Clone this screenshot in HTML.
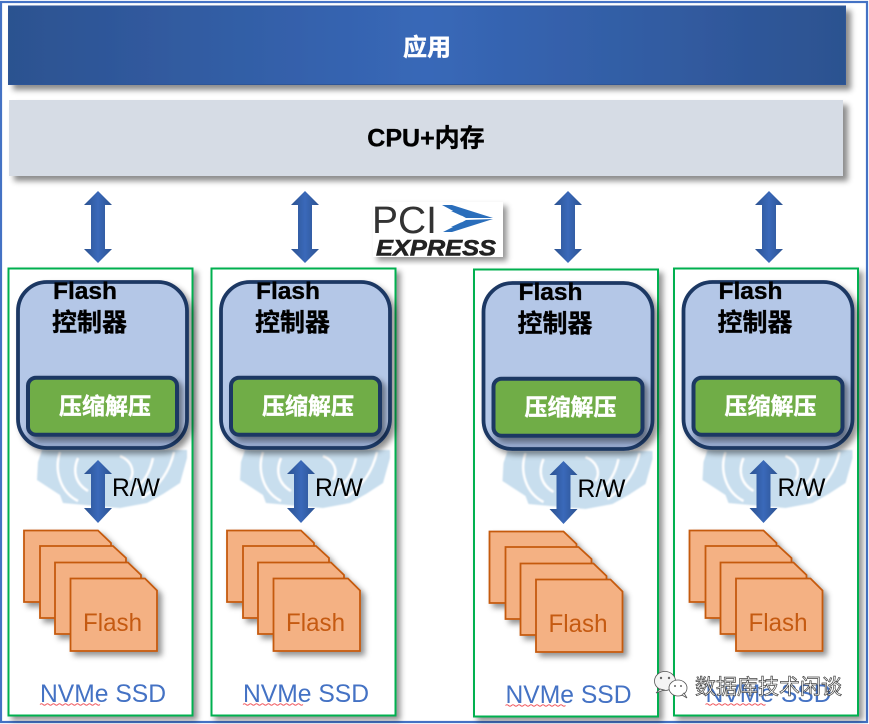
<!DOCTYPE html>
<html><head><meta charset="utf-8">
<style>
html,body{margin:0;padding:0;background:#fff}
svg{display:block}
text{font-family:"Liberation Sans","Noto Sans CJK SC",sans-serif}
.b{font-weight:700;stroke:#000;stroke-width:.35}
.w{font-weight:700;stroke:#fff;stroke-width:.4}
</style></head>
<body>
<svg width="869" height="724" viewBox="0 0 869 724" xmlns="http://www.w3.org/2000/svg">
<defs>
<linearGradient id="app" x1="0" x2="1" y1="0" y2="0"><stop offset="0" stop-color="#2c5290"/><stop offset=".5" stop-color="#3868b8"/><stop offset="1" stop-color="#2c5290"/></linearGradient>
<linearGradient id="arr" x1="0" x2="1" y1="0" y2="0"><stop offset="0" stop-color="#2c5290"/><stop offset=".5" stop-color="#3a69ba"/><stop offset="1" stop-color="#2c5290"/></linearGradient>
<linearGradient id="ctl" x1="0" x2="0" y1="0" y2="1"><stop offset="0" stop-color="#b4c7e7"/><stop offset=".87" stop-color="#b4c7e7"/><stop offset="1" stop-color="#8d9fc4"/></linearGradient>
<filter id="sh" x="-10%" y="-10%" width="125%" height="125%"><feDropShadow dx="4" dy="4" stdDeviation="3" flood-color="#000" flood-opacity=".42"/></filter>
<filter id="shw" x="-10%" y="-30%" width="120%" height="170%"><feDropShadow dx="5" dy="5" stdDeviation="3" flood-color="#000" flood-opacity=".45"/></filter>
<filter id="blur"><feGaussianBlur stdDeviation=".7"/></filter>

<path id="ta" fill="url(#arr)" d="M14 0 L28 14 L21 14 L21 58 L28 58 L14 72 L0 58 L7 58 L7 14 L0 14 Z"/>
<path id="ra" fill="url(#arr)" d="M14 0 L28 14 L21 14 L21 48 L28 48 L14 63 L0 48 L7 48 L7 14 L0 14 Z"/>

<g id="col">
  <rect x="8.500" y="268.500" width="184" height="447" fill="#fff" stroke="#00b050" stroke-width="2" filter="url(#sh)"/>
  <g filter="url(#blur)">
    <path fill="#c8deee" d="M42 450 L187 450 L187 458 L180 483 L163 494 L147 503 L120 508 L85 505 L63 503 L60 495 L37 480 L38 462 Z"/>
    <g fill="none" stroke="#fff" stroke-width="2.400">
      <path d="M60 452 C54 470 60 492 78 501"/>
      <path d="M78 458 C72 472 76 484 88 491"/>
      <path d="M153 458 C150 472 144 484 130 492"/>
      <path d="M174 452 C170 470 160 486 142 498"/>
      <path d="M120 456 C130 460 136 470 130 480"/>
    </g>
  </g>
  <rect x="18" y="282" width="169" height="166" rx="29" fill="url(#ctl)" stroke="#1f3864" stroke-width="3.800" filter="url(#sh)"/>
  <rect x="28" y="377.700" width="149" height="57" rx="8" fill="#70ad47" stroke="#1f3864" stroke-width="4" filter="url(#sh)"/>
  <use href="#ra" x="84" y="460"/>
  <g fill="#f4b183" stroke="#c55a11" stroke-width="1.800" filter="url(#sh)">
    <path d="M24 530.500 H98 L111 543 V602 H24 Z"/>
    <path d="M40 546 H113 L126 558 V618 H40 Z"/>
    <path d="M55 562.500 H128 L141 575 V634 H55 Z"/>
    <path d="M70.500 578.500 H145 L157 590.500 V651 H70.500 Z"/>
  </g>
  <path d="M40 704.500 q1.500 -1.500 3 0 t3 0 t3 0 t3 0 t3 0 t3 0 t3 0 t3 0 t3 0 t3 0 t3 0 t3 0 t3 0 t3 0 t3 0 t3 0 t3 0 t3 0 t3 0 t3 0" fill="none" stroke="#f0595f" stroke-width="1"/>
</g>
</defs>

<!-- outer frame -->
<rect x="1" y="2" width="866" height="720" fill="#fff" stroke="#4472c4" stroke-width="2.200"/>

<!-- top bars -->
<rect x="8.500" y="6" width="837" height="78.500" fill="url(#app)" stroke="#2f5597" stroke-width="1" filter="url(#shw)"/>
<text x="427" y="55.500" class="w" font-size="24" fill="#fff" text-anchor="middle">应用</text>
<rect x="9" y="100" width="834" height="76" fill="#d6dce5" filter="url(#shw)"/>
<text x="426" y="146.500" class="b" font-size="25" fill="#000" text-anchor="middle">CPU+内存</text>

<!-- top arrows -->
<use href="#ta" x="84" y="191"/>
<use href="#ta" x="291" y="191"/>
<use href="#ta" x="554" y="191"/>
<use href="#ta" x="755" y="191"/>

<!-- PCIe logo -->
<rect x="373" y="202" width="130" height="55" fill="#fff" filter="url(#sh)"/>
<text x="372" y="233" font-size="38" fill="#333" textLength="65" lengthAdjust="spacingAndGlyphs">PCI</text>
<path fill="#2a6ebb" d="M442 205 L452 205 L493 218 L466 218 L457 213 Z"/>
<path fill="#2a6ebb" d="M443 232 L452 232 L493 219 L466 220 L457 225 Z"/>
<path fill="#2a6ebb" d="M451 211 L458 211 L462 216 Z"/>
<path fill="#2a6ebb" d="M451 227 L458 227 L462 222 Z"/>
<text x="376" y="255.500" font-size="22.500" font-weight="700" font-style="italic" fill="#222" stroke="#222" stroke-width=".6" textLength="120" lengthAdjust="spacingAndGlyphs">EXPRESS</text>

<!-- column 1 -->
<g>
  <use href="#col"/>
  <text x="53" y="299" class="b" font-size="24" fill="#000" textLength="64" lengthAdjust="spacingAndGlyphs">Flash</text>
  <text x="52" y="331" class="b" font-size="25" fill="#000">控制器</text>
  <text x="59" y="414" class="w" font-size="23" fill="#fff">压缩解压</text>
  <text x="112" y="496" font-size="25" fill="#000" textLength="48" lengthAdjust="spacingAndGlyphs">R/W</text>
  <text x="83" y="631" font-size="25" fill="#c55a11" textLength="59" lengthAdjust="spacingAndGlyphs">Flash</text>
  <text x="40" y="702" font-size="25" fill="#4472c4" textLength="126" lengthAdjust="spacingAndGlyphs">NVMe SSD</text>
</g>
<!-- column 2 -->
<g transform="translate(203,0)">
  <use href="#col"/>
  <text x="53" y="299" class="b" font-size="24" fill="#000" textLength="64" lengthAdjust="spacingAndGlyphs">Flash</text>
  <text x="52" y="331" class="b" font-size="25" fill="#000">控制器</text>
  <text x="59" y="414" class="w" font-size="23" fill="#fff">压缩解压</text>
  <text x="112" y="496" font-size="25" fill="#000" textLength="48" lengthAdjust="spacingAndGlyphs">R/W</text>
  <text x="83" y="631" font-size="25" fill="#c55a11" textLength="59" lengthAdjust="spacingAndGlyphs">Flash</text>
  <text x="40" y="702" font-size="25" fill="#4472c4" textLength="126" lengthAdjust="spacingAndGlyphs">NVMe SSD</text>
</g>
<!-- column 3 -->
<g transform="translate(465.500,1)">
  <use href="#col"/>
  <text x="53" y="299" class="b" font-size="24" fill="#000" textLength="64" lengthAdjust="spacingAndGlyphs">Flash</text>
  <text x="52" y="331" class="b" font-size="25" fill="#000">控制器</text>
  <text x="59" y="414" class="w" font-size="23" fill="#fff">压缩解压</text>
  <text x="112" y="496" font-size="25" fill="#000" textLength="48" lengthAdjust="spacingAndGlyphs">R/W</text>
  <text x="83" y="631" font-size="25" fill="#c55a11" textLength="59" lengthAdjust="spacingAndGlyphs">Flash</text>
  <text x="40" y="702" font-size="25" fill="#4472c4" textLength="126" lengthAdjust="spacingAndGlyphs">NVMe SSD</text>
</g>
<!-- column 4 -->
<g transform="translate(665.500,0)">
  <use href="#col"/>
  <text x="53" y="299" class="b" font-size="24" fill="#000" textLength="64" lengthAdjust="spacingAndGlyphs">Flash</text>
  <text x="52" y="331" class="b" font-size="25" fill="#000">控制器</text>
  <text x="59" y="414" class="w" font-size="23" fill="#fff">压缩解压</text>
  <text x="112" y="496" font-size="25" fill="#000" textLength="48" lengthAdjust="spacingAndGlyphs">R/W</text>
  <text x="83" y="631" font-size="25" fill="#c55a11" textLength="59" lengthAdjust="spacingAndGlyphs">Flash</text>
  <text x="40" y="702" font-size="25" fill="#4472c4" textLength="126" lengthAdjust="spacingAndGlyphs">NVMe SSD</text>
</g>

<!-- watermark -->
<g fill="#fff" stroke="#555" stroke-width=".8">
  <ellipse cx="665" cy="681" rx="10.500" ry="9.500" fill="#f4f4f4"/>
  <path d="M660 689 L656 693 L664 690 Z" fill="#f4f4f4"/>
  <ellipse cx="678" cy="688" rx="9" ry="8"/>
  <path d="M682 695 L687 698 L684 693 Z"/>
</g>
<g fill="#666"><circle cx="661" cy="678" r="1.200"/><circle cx="669" cy="678" r="1.200"/><circle cx="675" cy="686" r="1"/><circle cx="681" cy="686" r="1"/></g>
<text x="695" y="694" font-size="21" fill="#fff" stroke="#444" stroke-width=".7" textLength="147" lengthAdjust="spacing">数据库技术闲谈</text>
</svg>
</body></html>
